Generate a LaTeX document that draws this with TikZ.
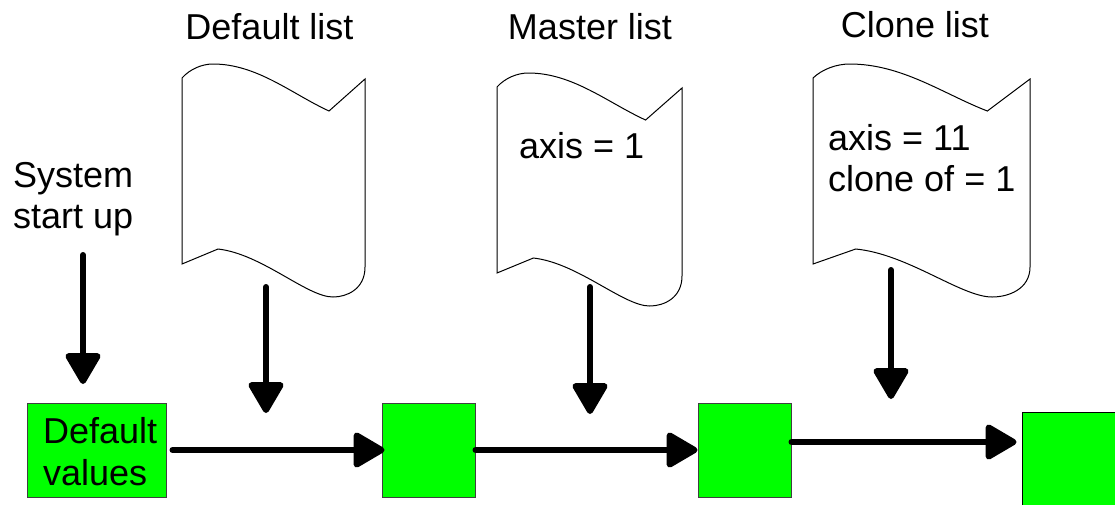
\documentclass[tikz,border=0pt]{standalone}
\usepackage{fontspec}
\setmainfont{Liberation Sans}
\usetikzlibrary{arrows.meta}
\definecolor{boxgreen}{HTML}{00FF00}
\begin{document}
\begin{tikzpicture}[x=1pt,y=-1pt,
  lbl/.style={inner sep=0pt, font=\fontsize{36}{41.4}\selectfont, align=left},
  box/.style={draw=black!75, line width=1pt, fill=boxgreen, inner sep=0pt, minimum height=94pt},
  doc/.style={draw=black, line width=1pt, fill=white},
  arr/.style={line width=6pt, line cap=round, -{Triangle[length=34pt,width=38pt,round]}},
  docshape/.pic={\draw[doc] (0,14) .. controls (8,5) and (20,0) .. (31,0)
      .. controls (75,0) and (110,30) .. (147,47) -- (183,15) -- (183,203)
      .. controls (183,225) and (165,233) .. (151,233)
      .. controls (125,233) and (80,190) .. (36,185) -- (0,200) -- cycle;}]
\path[use as bounding box] (0,0) rectangle (1115,504);
\clip (0,0) rectangle (1115,504);

% list documents
\path (182,64) pic {docshape};
\path (497,73) pic[xscale=185/183] {docshape};
\path (813,64) pic[xscale=217/183] {docshape};

% titles
\node[lbl, anchor=base] (tdef) at (269.5,39.3) {Default list};
\node[lbl, anchor=base] (tmas) at (590,39) {Master list};
\node[lbl, anchor=base] (tclo) at (915,37) {Clone list};
\node[lbl, anchor=base west] (sys) at (13,228.4) {System\\start up};

% document contents
\node[lbl, anchor=base west] (cmas) at (519,158.3) {axis = 1};
\node[lbl, anchor=base west] (cclo) at (828,191.7) {axis = 11\\clone of = 1};

% boxes
\node[box, minimum width=139pt] (b1) at (96.5,450) {};
\node[box, minimum width=93pt] (b2) at (428.5,450) {};
\node[box, minimum width=93pt] (b3) at (744.5,450) {};
\node[box, draw=black, minimum width=95pt] (b4) at (1069.5,459) {};
\node[lbl, anchor=base west] (dv) at (43,485) {Default\\values};

% vertical arrow ends
\coordinate (s0) at (83,255);   \coordinate (e0) at (83,384);
\coordinate (s1) at (266,287);  \coordinate (e1) at (266,413);
\coordinate (s2) at (590,287);  \coordinate (e2) at (590,414);
\coordinate (s3) at (891,270);  \coordinate (e3) at (891,399);

\draw[arr] (s0) -- (e0);
\draw[arr] (s1) -- (e1);
\draw[arr] (s2) -- (e2);
\draw[arr] (s3) -- (e3);

% horizontal arrows
\draw[arr] ([xshift=6pt]b1.east) -- ([xshift=3pt]b2.west);
\draw[arr] (b2.east) -- (b3.west);
\draw[arr] ([yshift=8pt]b3.east) -- ([yshift=8pt,xshift=-5pt]b3.east -| b4.west);
\end{tikzpicture}
\end{document}
